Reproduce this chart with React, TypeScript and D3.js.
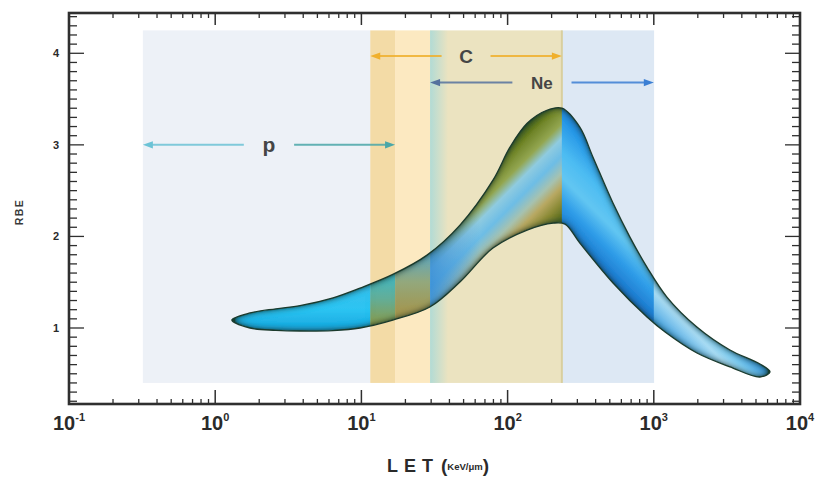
import React from 'react';
import * as d3 from 'd3';

const W = 818;
const H = 478;

// Axis domains
const letDomain = [0.1, 10000];
const rbeDomain = [0.17, 4.44];
const decadeExponents = [-1, 0, 1, 2, 3, 4];
const rbeTickValues = [1, 2, 3, 4];

// Ion beams and the LET range (keV/µm) each one covers
const ions = ['p', 'C', 'Ne'];
const ionLetMin = [0.32, 11.5, 29.5];
const ionLetMax = [17, 235, 1000];
const ionArrowRbe = [3.0, 3.97, 3.68];
const ionArrowLeft = ['#6cc3d6', '#f0b02c', '#55729e'];
const ionArrowRight = ['#4aa7a8', '#f0b02c', '#3b7fd4'];
const ionLabelSize = [21, 19, 17];
const bandRbe = [0.4, 4.25];
// tint of each stretch of the LET axis: p, p+C, C, C+Ne, Ne
const overlapTint = ['#edf1f7', '#f3dba6', '#fce9c1', '#ebe3c0', '#dde8f4'];

// RBE envelope as a function of LET
const leftTip = [1.3, 1.087];
const rightTip = [6240, 0.52];
const upperLet = [1.73, 2.6, 3.8, 6.4, 9.78, 16.4, 28.1, 47.2, 79.4, 103.8, 136, 185.6, 235.5, 312, 384, 526, 687, 898, 1230, 1972, 3318, 5321];
const upperRbe = [1.164, 1.21, 1.245, 1.33, 1.436, 1.585, 1.796, 2.124, 2.615, 2.975, 3.236, 3.378, 3.4, 3.193, 2.865, 2.364, 1.993, 1.665, 1.338, 1.011, 0.76, 0.607];
const lowerLet = [1.73, 2.6, 3.8, 6.4, 9.78, 16.4, 29.4, 47.2, 79.4, 136, 205, 247, 312, 526, 898, 1194, 1972, 3318, 5321];
const lowerRbe = [1.0, 0.975, 0.967, 0.972, 1.0, 1.087, 1.229, 1.502, 1.873, 2.069, 2.145, 2.134, 1.927, 1.491, 1.12, 0.956, 0.727, 0.575, 0.465];

const x = d3.scaleLog().domain(letDomain).range([69, 800]);
const y = d3.scaleLinear().domain(rbeDomain).range([404, 13]);

const envelope: [number, number][] = [
  leftTip as [number, number],
  ...upperLet.map((l, i) => [l, upperRbe[i]] as [number, number]),
  rightTip as [number, number],
  ...lowerLet.map((l, i) => [l, lowerRbe[i]] as [number, number]).reverse(),
];

const envelopePath = d3
  .line<[number, number]>()
  .x((d) => x(d[0]))
  .y((d) => y(d[1]))
  .curve(d3.curveCatmullRomClosed.alpha(0.5))(envelope) as string;

// Boundaries where beam ranges start or stop
const rangeEdges = Array.from(new Set([...ionLetMin, ...ionLetMax])).sort((a, b) => a - b);
// Curve shading zones follow the same boundaries
const zoneEdges = [letDomain[0], ...rangeEdges.slice(1), letDomain[1]];
const zoneFills = ['url(#zA)', 'url(#zB)', 'url(#zC)', 'url(#zD)', 'url(#zE)', 'url(#zF)'];

const minorLet: number[] = [];
decadeExponents.slice(0, -1).forEach((e) => {
  for (let m = 2; m <= 9; m++) minorLet.push(m * Math.pow(10, e));
});
const rbeMinor = d3.range(2, 45).map((v) => v / 10);

const FONT = '"Liberation Sans", Arial, Helvetica, sans-serif';

export default function App() {
  const x0 = x.range()[0];
  const x1 = x.range()[1];
  const yTop = y.range()[1];
  const yBot = y.range()[0];
  const bandTop = y(bandRbe[1]);
  const bandH = y(bandRbe[0]) - y(bandRbe[1]);

  const arrowHead = (tipX: number, yy: number, dir: number) =>
    `M${tipX},${yy} L${tipX - dir * 10},${yy - 3.6} L${tipX - dir * 10},${yy + 3.6} Z`;

  return (
    <svg width={W} height={H} style={{ position: 'absolute', left: 0, top: 0, background: '#fff' }}>
      <defs>
        <clipPath id="envClip">
          <path d={envelopePath} />
        </clipPath>
        <linearGradient id="zA" gradientUnits="userSpaceOnUse" x1="0" y1="288" x2="0" y2="335">
          <stop offset="0" stopColor="#36c0ec" />
          <stop offset="0.45" stopColor="#2cc4f2" />
          <stop offset="1" stopColor="#15a0da" />
        </linearGradient>
        <linearGradient id="zB" gradientUnits="userSpaceOnUse" x1="0" y1="272" x2="0" y2="325">
          <stop offset="0" stopColor="#3fb8c8" />
          <stop offset="0.5" stopColor="#62ae98" />
          <stop offset="1" stopColor="#8a9a4a" />
        </linearGradient>
        <linearGradient id="zC" gradientUnits="userSpaceOnUse" x1="0" y1="252" x2="0" y2="312">
          <stop offset="0" stopColor="#5aa6c4" />
          <stop offset="0.5" stopColor="#93a87c" />
          <stop offset="1" stopColor="#a39650" />
        </linearGradient>
        <linearGradient id="zD" gradientUnits="userSpaceOnUse" x1="325" y1="325" x2="392.5" y2="392.5">
          <stop offset="0" stopColor="#3e5c16" />
          <stop offset="0.11" stopColor="#6f8428" />
          <stop offset="0.26" stopColor="#93a650" />
          <stop offset="0.37" stopColor="#8fcbe0" />
          <stop offset="0.5" stopColor="#6dbde6" />
          <stop offset="0.63" stopColor="#a6c2b0" />
          <stop offset="0.73" stopColor="#b8a862" />
          <stop offset="0.85" stopColor="#8a8a36" />
          <stop offset="1" stopColor="#44601a" />
        </linearGradient>
        <linearGradient id="zDblue" gradientUnits="userSpaceOnUse" x1={x(29.5)} y1="0" x2={x(29.5) + 50} y2="0">
          <stop offset="0" stopColor="#3a8fd6" stopOpacity="0.9" />
          <stop offset="1" stopColor="#3a8fd6" stopOpacity="0" />
        </linearGradient>
        <linearGradient id="zE" gradientUnits="userSpaceOnUse" x1="235" y1="-235" x2="162.5" y2="-162.5">
          <stop offset="0" stopColor="#1a6fcc" />
          <stop offset="0.21" stopColor="#2a9ae8" />
          <stop offset="0.41" stopColor="#4cbcf2" />
          <stop offset="0.59" stopColor="#62c6f2" />
          <stop offset="0.76" stopColor="#2e9ce8" />
          <stop offset="1" stopColor="#1a6cc4" />
        </linearGradient>
        <linearGradient id="zF" gradientUnits="userSpaceOnUse" x1="200" y1="-200" x2="165" y2="-165">
          <stop offset="0" stopColor="#2d8fd8" />
          <stop offset="0.35" stopColor="#7ccbf0" />
          <stop offset="0.55" stopColor="#a8dcf4" />
          <stop offset="1" stopColor="#3f9fe0" />
        </linearGradient>
        <linearGradient id="neHaze" gradientUnits="userSpaceOnUse" x1={x(29.5)} y1="0" x2={x(29.5) + 18} y2="0">
          <stop offset="0" stopColor="#9fd8dc" stopOpacity="0.75" />
          <stop offset="1" stopColor="#9fd8dc" stopOpacity="0" />
        </linearGradient>
        <filter id="edgeShade" x="-5%" y="-5%" width="110%" height="110%">
          <feGaussianBlur in="SourceAlpha" stdDeviation="3.5" result="blur" />
          <feComposite in="SourceAlpha" in2="blur" operator="arithmetic" k1="0" k2="1.7" k3="-1.7" k4="0" result="edge" />
          <feFlood floodColor="#17402f" result="ink" />
          <feComposite in="ink" in2="edge" operator="in" result="edgeInk" />
          <feMerge>
            <feMergeNode in="SourceGraphic" />
            <feMergeNode in="edgeInk" />
          </feMerge>
        </filter>
      </defs>

      {/* Beam LET bands */}
      <g>
        {overlapTint.map((c, i) => (
          <rect
            key={i}
            x={x(rangeEdges[i])}
            y={bandTop}
            width={x(rangeEdges[i + 1]) - x(rangeEdges[i]) + 0.3}
            height={bandH}
            fill={c}
          />
        ))}
        <rect x={x(ionLetMin[2])} y={bandTop} width={18} height={bandH} fill="url(#neHaze)" />
        <rect x={x(ionLetMax[1]) - 1} y={bandTop} width={2} height={bandH} fill="#d9cf9e" />
      </g>

      {/* RBE envelope */}
      <g filter="url(#edgeShade)">
        <g clipPath="url(#envClip)">
          {zoneFills.map((f, i) => (
            <rect
              key={i}
              x={x(zoneEdges[i])}
              y={yTop}
              width={x(zoneEdges[i + 1]) - x(zoneEdges[i]) + 0.5}
              height={yBot - yTop}
              fill={f}
            />
          ))}
          <rect x={x(29.5)} y={yTop} width={50} height={yBot - yTop} fill="url(#zDblue)" />
        </g>
      </g>
      <path d={envelopePath} fill="none" stroke="#1b3a2c" strokeWidth={1.3} />

      {/* Beam range arrows */}
      {ions.map((ion, i) => {
        const yy = y(ionArrowRbe[i]);
        const xl = x(ionLetMin[i]);
        const xr = x(ionLetMax[i]);
        const xc = x(Math.sqrt(ionLetMin[i] * ionLetMax[i]));
        const half = ion.length * ionLabelSize[i] * 0.34 + 18;
        return (
          <g key={ion}>
            <line x1={xl + 6} y1={yy} x2={xc - half} y2={yy} stroke={ionArrowLeft[i]} strokeWidth={2} opacity={0.85} />
            <path d={arrowHead(xl, yy, -1)} fill={ionArrowLeft[i]} />
            <line x1={xc + half} y1={yy} x2={xr - 6} y2={yy} stroke={ionArrowRight[i]} strokeWidth={2} opacity={0.85} />
            <path d={arrowHead(xr, yy, 1)} fill={ionArrowRight[i]} />
            <text
              x={xc}
              y={yy}
              dy="0.35em"
              textAnchor="middle"
              fontFamily={FONT}
              fontWeight="bold"
              fontSize={ionLabelSize[i]}
              fill="#454545"
            >
              {ion}
            </text>
          </g>
        );
      })}

      {/* Frame and ticks */}
      <g stroke="#2f2f2f" fill="none">
        {decadeExponents.map((e) => {
          const xx = x(Math.pow(10, e));
          return (
            <g key={`M${e}`} strokeWidth={1.5}>
              <line x1={xx} x2={xx} y1={yBot} y2={yBot - 14} />
              <line x1={xx} x2={xx} y1={yTop} y2={yTop + 12} />
            </g>
          );
        })}
        {minorLet.map((v) => {
          const xx = x(v);
          return (
            <g key={`m${v}`} strokeWidth={1.3}>
              <line x1={xx} x2={xx} y1={yBot} y2={yBot - 5} />
              <line x1={xx} x2={xx} y1={yTop} y2={yTop + 5} />
            </g>
          );
        })}
        {rbeMinor.map((v) => {
          const yy = y(v);
          const isMajor = Math.abs(v - Math.round(v)) < 1e-6;
          const len = isMajor ? 15 : 8;
          return (
            <g key={`r${v}`} strokeWidth={1.3}>
              <line x1={x0} x2={x0 + len} y1={yy} y2={yy} />
              <line x1={x1} x2={x1 - len} y1={yy} y2={yy} />
            </g>
          );
        })}
        <rect x={x0} y={yTop} width={x1 - x0} height={yBot - yTop} strokeWidth={2.6} />
      </g>

      {/* Tick labels */}
      <g fontFamily={FONT} fontWeight="bold" fill="#2a2a2a">
        {decadeExponents.map((e) => (
          <text key={e} x={x(Math.pow(10, e))} y={430} textAnchor="middle" fontSize={20}>
            10
            <tspan dx={0} dy={-9} fontSize={11}>
              {e}
            </tspan>
          </text>
        ))}
        {rbeTickValues.map((v) => (
          <text key={v} x={56} y={y(v)} dy="0.36em" textAnchor="middle" fontSize={11}>
            {v}
          </text>
        ))}
      </g>

      {/* Axis titles */}
      <text
        transform={`translate(23,212) rotate(-90)`}
        textAnchor="middle"
        fontFamily={FONT}
        fontWeight="bold"
        fontSize={10.5}
        letterSpacing={1.5}
        fill="#3a3a3a"
      >
        RBE
      </text>
      <text x={387} y={472} fontFamily={FONT} fontWeight="bold" fill="#2a2a2a">
        <tspan fontSize={18} letterSpacing={6}>LET</tspan>
        <tspan x={441} fontSize={19}>(</tspan>
        <tspan fontSize={9.5} dy={-2}>KeV/μm</tspan>
        <tspan fontSize={19} dy={2}>)</tspan>
      </text>
    </svg>
  );
}
